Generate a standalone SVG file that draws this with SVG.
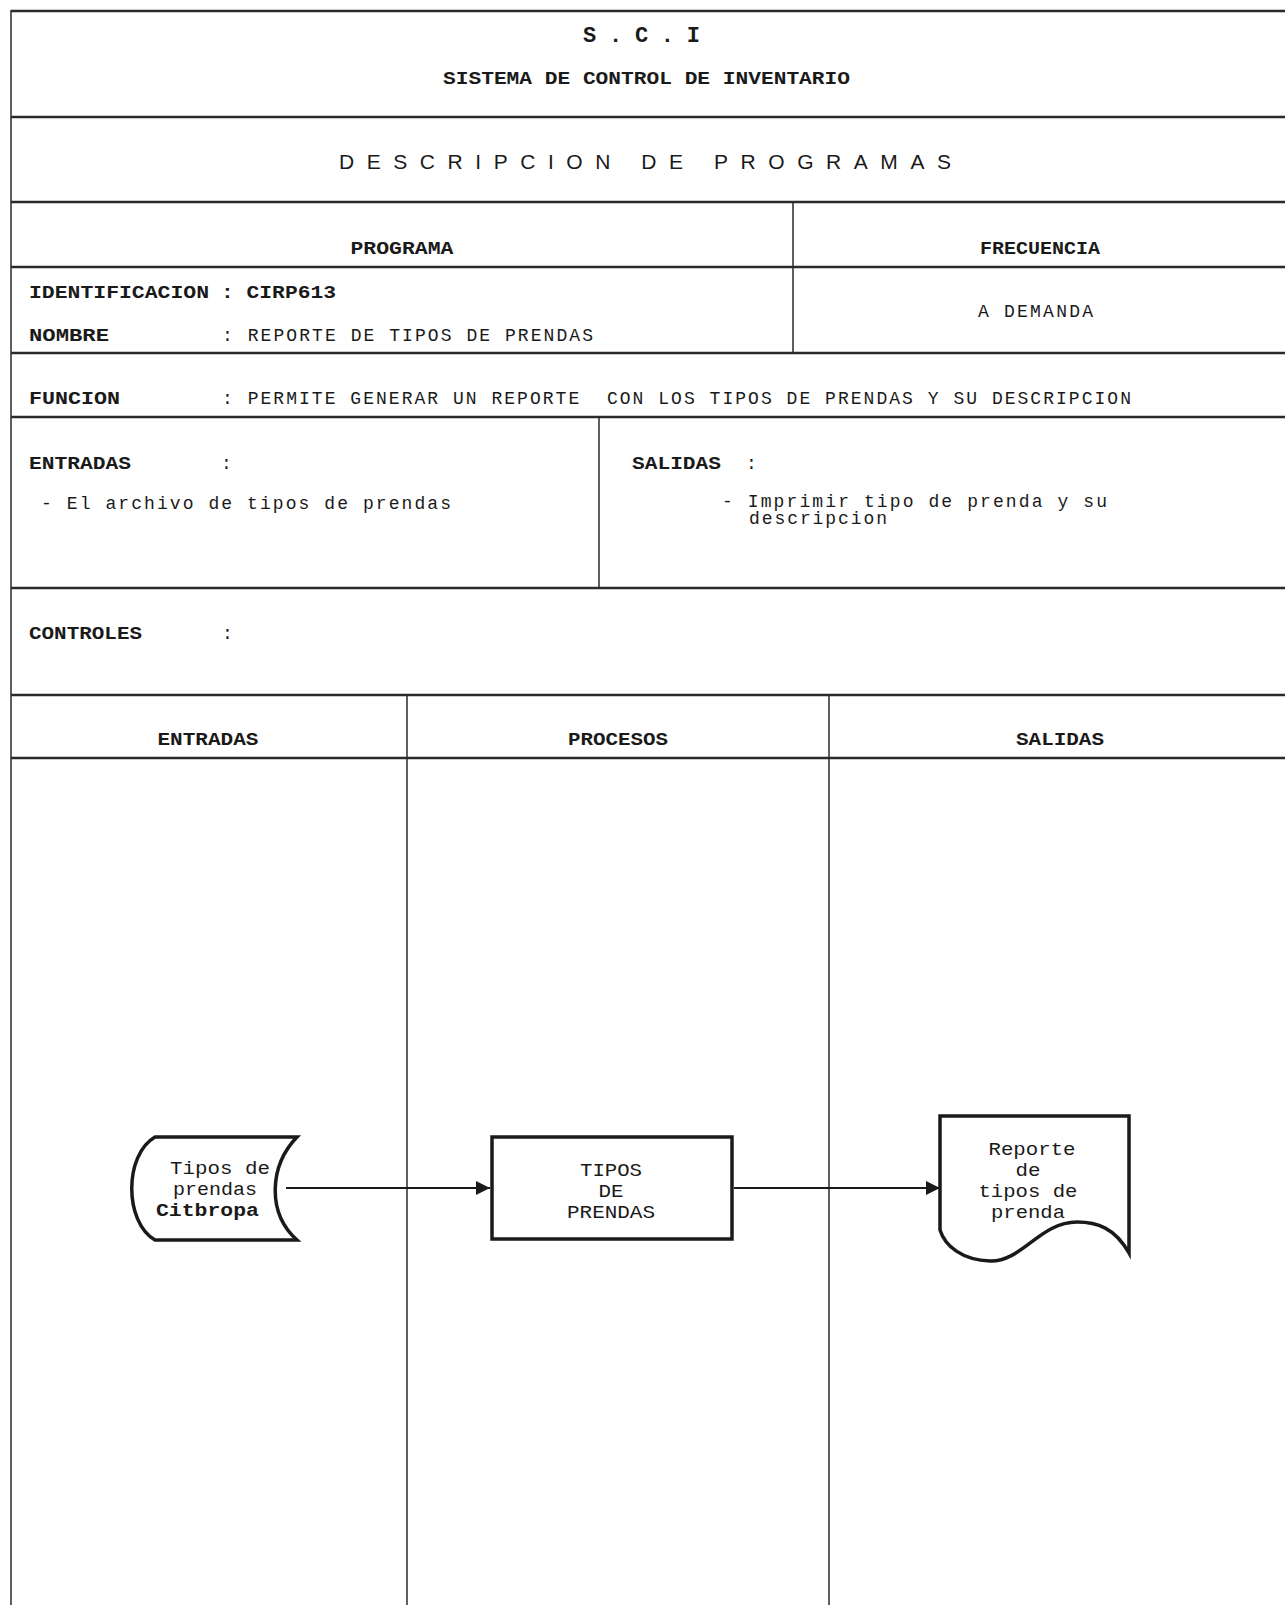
<svg xmlns="http://www.w3.org/2000/svg" width="1285" height="1605" viewBox="0 0 1285 1605">
<style>
.bg{fill:#ffffff}
.ln{stroke:#2a2a2a;stroke-width:2.4;fill:none}
.lv{stroke:#2a2a2a;stroke-width:1.5;fill:none}
.t{font-family:"Liberation Mono","DejaVu Sans Mono",monospace;fill:#1a1a1a}
.s{font-family:"Liberation Sans","DejaVu Sans",sans-serif;fill:#1a1a1a}
.b{font-weight:bold}
.r{font-size:18px}
.h{font-size:18px;font-weight:bold}
.d{font-size:18px}
.m{text-anchor:middle}
.shape{fill:#ffffff;stroke:#1a1a1a;stroke-width:3.5;stroke-linejoin:miter}
.conn{stroke:#1a1a1a;stroke-width:2;fill:none}
</style>
<defs>
<marker id="arrow" viewBox="0 0 14 14" refX="14" refY="7" markerWidth="14" markerHeight="14" markerUnits="userSpaceOnUse" orient="auto">
<path d="M0,0 L14,7 L0,14 Z" fill="#1a1a1a"/>
</marker>
</defs>
<rect class="bg" x="0" y="0" width="1285" height="1605"/>

<g id="form-lines">
<line class="ln" x1="11" y1="11" x2="1285" y2="11"/>
<line class="ln" x1="11" y1="117" x2="1285" y2="117"/>
<line class="ln" x1="11" y1="202" x2="1285" y2="202"/>
<line class="ln" x1="11" y1="267" x2="1285" y2="267"/>
<line class="ln" x1="11" y1="353" x2="1285" y2="353"/>
<line class="ln" x1="11" y1="417" x2="1285" y2="417"/>
<line class="ln" x1="11" y1="588" x2="1285" y2="588"/>
<line class="ln" x1="11" y1="695" x2="1285" y2="695"/>
<line class="ln" x1="11" y1="758" x2="1285" y2="758"/>
<line class="lv" x1="11" y1="10" x2="11" y2="1605"/>
<line class="lv" x1="793" y1="202" x2="793" y2="353"/>
<line class="lv" x1="599" y1="417" x2="599" y2="588"/>
<line class="lv" x1="407" y1="695" x2="407" y2="1605"/>
<line class="lv" x1="829" y1="695" x2="829" y2="1605"/>
</g>

<g id="header">
<text class="t b" x="583" y="42" font-size="22" textLength="117" lengthAdjust="spacing">S.C.I</text>
<text class="t b" x="443" y="84" font-size="19" textLength="407" lengthAdjust="spacingAndGlyphs">SISTEMA DE CONTROL DE INVENTARIO</text>
<text class="s" x="339" y="169" font-size="21" textLength="612" lengthAdjust="spacing">DESCRIPCION DE PROGRAMAS</text>
</g>

<g id="program-info">
<text class="t h m" x="402" y="254" textLength="103" lengthAdjust="spacingAndGlyphs">PROGRAMA</text>
<text class="t h m" x="1040" y="254" textLength="120" lengthAdjust="spacingAndGlyphs">FRECUENCIA</text>
<text class="t h" x="29" y="298" textLength="180" lengthAdjust="spacingAndGlyphs">IDENTIFICACION</text>
<text class="t h" x="221" y="298" textLength="115" lengthAdjust="spacingAndGlyphs">: CIRP613</text>
<text class="t r" x="978" y="317" textLength="115" lengthAdjust="spacing">A DEMANDA</text>
<text class="t h" x="29" y="341" textLength="80" lengthAdjust="spacingAndGlyphs">NOMBRE</text>
<text class="t r" x="222" y="341" textLength="371" lengthAdjust="spacing">: REPORTE DE TIPOS DE PRENDAS</text>
<text class="t h" x="29" y="404" textLength="91" lengthAdjust="spacingAndGlyphs">FUNCION</text>
<text class="t r" x="222" y="404" textLength="909" lengthAdjust="spacing" xml:space="preserve">: PERMITE GENERAR UN REPORTE  CON LOS TIPOS DE PRENDAS Y SU DESCRIPCION</text>
<text class="t h" x="29" y="469" textLength="102" lengthAdjust="spacingAndGlyphs">ENTRADAS</text>
<text class="t r" x="221" y="469">:</text>
<text class="t h" x="632" y="469" textLength="89" lengthAdjust="spacingAndGlyphs">SALIDAS</text>
<text class="t r" x="746" y="469">:</text>
<text class="t r" x="41" y="509" textLength="410" lengthAdjust="spacing">- El archivo de tipos de prendas</text>
<text class="t r" x="722" y="507" textLength="385" lengthAdjust="spacing">- Imprimir tipo de prenda y su</text>
<text class="t r" x="749" y="524" textLength="138" lengthAdjust="spacing">descripcion</text>
<text class="t h" x="29" y="639" textLength="113" lengthAdjust="spacingAndGlyphs">CONTROLES</text>
<text class="t r" x="222" y="639">:</text>
<text class="t h m" x="208" y="745" textLength="101" lengthAdjust="spacingAndGlyphs">ENTRADAS</text>
<text class="t h m" x="618" y="745" textLength="100" lengthAdjust="spacingAndGlyphs">PROCESOS</text>
<text class="t h m" x="1060" y="745" textLength="88" lengthAdjust="spacingAndGlyphs">SALIDAS</text>
</g>

<g id="connectors">
<line class="conn" x1="286" y1="1188" x2="490" y2="1188" marker-end="url(#arrow)"/>
<line class="conn" x1="734" y1="1188" x2="940" y2="1188" marker-end="url(#arrow)"/>
</g>

<g id="node-input">
<path class="shape" d="M155,1137 L297,1137 C270,1165 266,1212 297,1240 L155,1240 C124,1222 124,1155 155,1137 Z"/>
<text class="t d" x="170" y="1174" textLength="100" lengthAdjust="spacingAndGlyphs">Tipos de</text>
<text class="t d" x="173" y="1195" textLength="84" lengthAdjust="spacingAndGlyphs">prendas</text>
<text class="t d b" x="156" y="1216" textLength="103" lengthAdjust="spacingAndGlyphs">Citbropa</text>
</g>

<g id="node-process">
<rect class="shape" x="492" y="1137" width="240" height="102"/>
<text class="t d m" x="611" y="1176" textLength="62" lengthAdjust="spacingAndGlyphs">TIPOS</text>
<text class="t d m" x="611" y="1197" textLength="25" lengthAdjust="spacingAndGlyphs">DE</text>
<text class="t d m" x="611" y="1218" textLength="88" lengthAdjust="spacingAndGlyphs">PRENDAS</text>
</g>

<g id="node-output">
<path class="shape" d="M940,1116 L1129,1116 L1129,1253 C1115,1228 1097,1222 1077,1222 C1040,1222 1022,1262 990,1261 C962,1260 945,1246 940,1230 Z"/>
<text class="t d m" x="1032" y="1155" textLength="87" lengthAdjust="spacingAndGlyphs">Reporte</text>
<text class="t d m" x="1028" y="1176" textLength="25" lengthAdjust="spacingAndGlyphs">de</text>
<text class="t d m" x="1028" y="1197" textLength="99" lengthAdjust="spacingAndGlyphs">tipos de</text>
<text class="t d m" x="1028" y="1218" textLength="74" lengthAdjust="spacingAndGlyphs">prenda</text>
</g>
</svg>
